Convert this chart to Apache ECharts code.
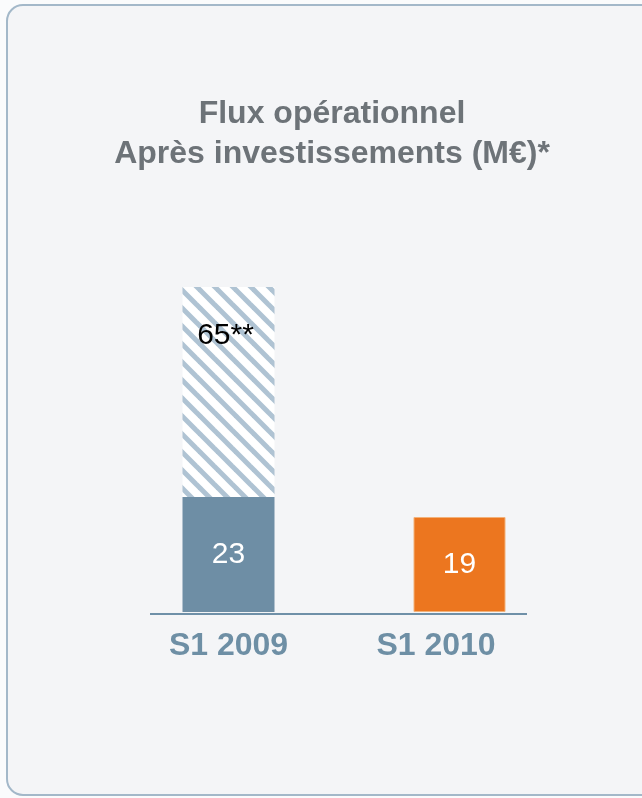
<!DOCTYPE html>
<html>
<head>
<meta charset="utf-8">
<script src="https://cdn.jsdelivr.net/npm/echarts@6/dist/echarts.min.js"></script>
<style>
  html, body { margin: 0; padding: 0; background: #fafbfc; }
  #main { width: 642px; height: 798px; }
</style>
</head>
<body>
<div id="main"></div>
<script>
var categories = ['S1 2009', 'S1 2010']
var baseValues = [23, 19]          // bas des barres
var hatchValues = [42, null]       // partie hachurée (65 au total)
var hatchLabel = '65**'

// motif hachuré (diagonales descendantes)
function hatchPattern() {
  var s = 18
  var c = document.createElement('canvas')
  c.width = s; c.height = s
  var ctx = c.getContext('2d')
  ctx.fillStyle = '#ffffff'
  ctx.fillRect(0, 0, s, s)
  ctx.strokeStyle = '#afc3d3'
  ctx.lineWidth = 5
  for (var x0 = -s; x0<= s; x0 += s) {
    ctx.beginPath()
    ctx.moveTo(x0 - s, -s)
    ctx.lineTo(x0 + 2 * s, 2 * s)
    ctx.stroke()
  }
  return c
}

var chart = echarts.init(document.getElementById('main'))
var font = '"Liberation Sans", Arial, sans-serif'

var option = {
  backgroundColor: 'transparent',
  title: {
    text: 'Flux opérationnel\nAprès investissements (M€)*',
    left: 327,
    top: 89,
    textAlign: 'center',
    textStyle: {
      fontFamily: font,
      fontSize: 32,
      fontWeight: 'bold',
      color: '#6d7378',
      lineHeight: 40
    }
  },
  graphic: [
    {
      type: 'rect',
      z: -10,
      shape: { x: 7, y: 5, width: 680, height: 790, r: 16 },
      style: { fill: '#f4f5f7', stroke: '#a3b8c9', lineWidth: 2 }
    },
    {
      type: 'line',
      z: 10,
      shape: { x1: 150, y1: 614, x2: 527, y2: 614 },
      style: { stroke: '#6f90a8', lineWidth: 2 }
    }
  ],
  grid: { left: 113, right: 67, top: 212, bottom: 186 },
  xAxis: {
    type: 'category',
    data: [
      categories[0],
      { value: categories[1], textStyle: { padding: [0, 47, 0, 0] } }
    ],
    axisLine: { show: false },
    axisTick: { show: false },
    axisLabel: {
      margin: 18,
      fontFamily: font,
      fontSize: 32,
      fontWeight: 'bold',
      color: '#6e8fa5'
    }
  },
  yAxis: {
    type: 'value',
    min: 0,
    max: 80,
    show: false,
    splitLine: { show: false }
  },
  series: [
    {
      type: 'bar',
      stack: 'a',
      barWidth: 92,
      data: [
        { value: baseValues[0], itemStyle: { color: '#6e8ea5' } },
        { value: baseValues[1], itemStyle: { color: '#ec761f', borderColor: '#f3b27a', borderWidth: 1 } }
      ],
      label: {
        show: true,
        position: 'inside',
        fontFamily: font,
        fontSize: 30,
        color: '#ffffff'
      }
    },
    {
      type: 'bar',
      stack: 'a',
      barWidth: 88,
      data: hatchValues,
      itemStyle: {
        color: { image: hatchPattern(), repeat: 'repeat' }
      },
      label: {
        show: true,
        position: 'insideTop',
        distance: 34,
        offset: [-3, 0],
        formatter: hatchLabel,
        fontFamily: font,
        fontSize: 30,
        color: '#000000'
      }
    }
  ]
}

chart.setOption(option)
</script>
</body>
</html>
